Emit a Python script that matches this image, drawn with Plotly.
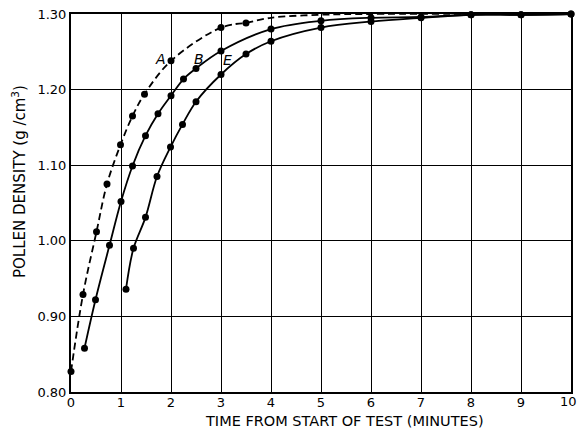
import plotly.graph_objects as go

# Curve A (dashed)
a_x = [0.0, 0.24, 0.51, 0.72, 0.99, 1.23, 1.47, 2.0, 3.0, 3.5]
a_y = [0.827, 0.929, 1.012, 1.075, 1.127, 1.165, 1.194, 1.238, 1.282, 1.288]
# continuation of A without markers
a_tail_x = [3.5, 4.0, 5.0, 6.0, 10.0]
a_tail_y = [1.288, 1.295, 1.299, 1.300, 1.300]

# Curve B
b_x = [0.27, 0.49, 0.77, 1.0, 1.23, 1.49, 1.74, 2.0, 2.25, 2.5, 3.0, 4.0, 5.0, 6.0, 7.0, 8.0, 9.0, 10.0]
b_y = [0.858, 0.922, 0.994, 1.052, 1.099, 1.139, 1.168, 1.192, 1.214, 1.228, 1.251, 1.280, 1.291, 1.295, 1.296, 1.299, 1.299, 1.300]

# Curve E
e_x = [1.1, 1.25, 1.49, 1.72, 1.99, 2.23, 2.5, 3.0, 3.5, 4.0, 5.0, 6.0, 7.0, 8.0, 9.0, 10.0]
e_y = [0.936, 0.990, 1.031, 1.085, 1.124, 1.154, 1.184, 1.220, 1.247, 1.264, 1.282, 1.290, 1.295, 1.299, 1.299, 1.300]

labels = ["A", "B", "E"]
label_x = [1.79, 2.55, 3.13]
label_y = [1.240, 1.240, 1.239]

x_ticks = [0, 1, 2, 3, 4, 5, 6, 7, 8, 9, 10]
y_ticks = [0.80, 0.90, 1.00, 1.10, 1.20, 1.30]
y_tick_text = ["0.80", "0.90", "1.00", "1.10", "1.20", "1.30"]

x_title = "TIME FROM START OF TEST (MINUTES)"
y_title = "POLLEN DENSITY (g /cm<sup>3</sup>)"

FONT = "DejaVu Sans"

fig = go.Figure()
fig.add_trace(go.Scatter(x=a_tail_x, y=a_tail_y, mode="lines",
                         line=dict(color="black", width=1.8, dash="7px,4px", shape="spline"),
                         cliponaxis=False, showlegend=False))
fig.add_trace(go.Scatter(x=a_x, y=a_y, mode="lines+markers",
                         line=dict(color="black", width=1.8, dash="7px,4px", shape="spline"),
                         marker=dict(color="black", size=7),
                         cliponaxis=False, showlegend=False))
fig.add_trace(go.Scatter(x=b_x, y=b_y, mode="lines+markers",
                         line=dict(color="black", width=1.8, shape="spline"),
                         marker=dict(color="black", size=7),
                         cliponaxis=False, showlegend=False))
fig.add_trace(go.Scatter(x=e_x, y=e_y, mode="lines+markers",
                         line=dict(color="black", width=1.8, shape="spline"),
                         marker=dict(color="black", size=7),
                         cliponaxis=False, showlegend=False))

for t, x, y in zip(labels, label_x, label_y):
    fig.add_annotation(x=x, y=y, text="<i>" + t + "</i>", showarrow=False,
                       font=dict(family=FONT, size=14, color="black"),
                       xanchor="center", yanchor="middle")

# last x tick label (sits at the page edge, drawn as an annotation so it is not dropped)
fig.add_annotation(x=x_ticks[-1], y=y_ticks[0], text=str(x_ticks[-1]), showarrow=False,
                   xanchor="center", yanchor="middle", xshift=-3, yshift=-9,
                   font=dict(family=FONT, size=13, color="black"))

# axis titles as annotations positioned relative to the plot area
fig.add_annotation(xref="paper", yref="paper", x=(344 - 71) / 500, y=0, yshift=-29,
                   text=x_title, showarrow=False, xanchor="center", yanchor="middle",
                   font=dict(family=FONT, size=14.5, color="black"))
fig.add_annotation(xref="paper", yref="paper", x=0, xshift=-52, y=(392 - 182) / 378,
                   text=y_title, showarrow=False, textangle=-90,
                   xanchor="center", yanchor="middle",
                   font=dict(family=FONT, size=15, color="black"))

fig.update_xaxes(range=[0, 10], tickvals=x_ticks[:-1], ticktext=[str(v) for v in x_ticks[:-1]],
                 showgrid=True, gridcolor="black", gridwidth=1,
                 showline=True, linecolor="black", linewidth=2, mirror=True,
                 zeroline=False, ticks="", ticklen=0, automargin=False,
                 ticklabelstandoff=-3,
                 tickfont=dict(family=FONT, size=13, color="black"))
fig.update_yaxes(range=[0.80, 1.30], tickvals=y_ticks, ticktext=y_tick_text,
                 showgrid=True, gridcolor="black", gridwidth=1,
                 showline=True, linecolor="black", linewidth=2, mirror=True,
                 zeroline=False, ticks="", ticklen=0, automargin=False,
                 tickfont=dict(family=FONT, size=13, color="black"))

fig.update_layout(width=578, height=429, paper_bgcolor="white", plot_bgcolor="white",
                  margin=dict(l=71, r=7, t=14, b=37, autoexpand=False), showlegend=False)

fig.write_html("out.html", config={"displayModeBar": False},
               post_script="document.body.style.margin='0';document.body.style.padding='0';")
